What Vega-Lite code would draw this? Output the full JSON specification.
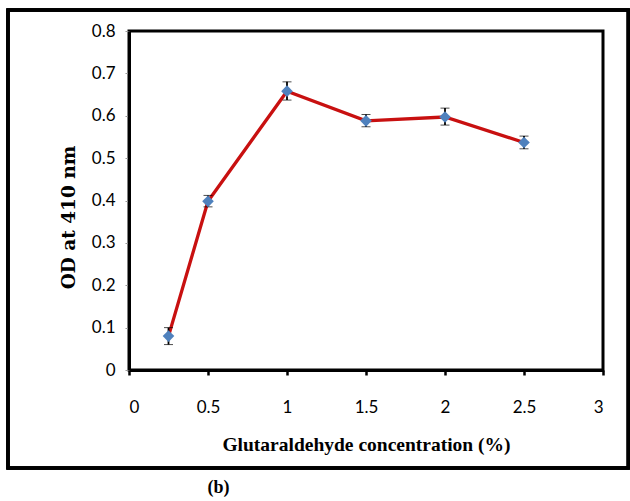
{
  "$schema": "https://vega.github.io/schema/vega-lite/v6.json",
  "width": 474,
  "height": 339,
  "autosize": {"type": "none"},
  "padding": {"left": 129, "top": 31, "right": 27, "bottom": 131},
  "background": "white",
  "title": {
    "text": "(b)",
    "orient": "bottom",
    "anchor": "start",
    "dx": 201,
    "offset": 9,
    "font": "Liberation Serif",
    "fontSize": 18,
    "fontWeight": "bold",
    "color": "black"
  },
  "config": {
    "view": {"stroke": "black", "strokeWidth": 3},
    "axis": {"grid": false}
  },
  "data": {
    "values": [
      {"conc": 0.25, "od": 0.08, "lo": 0.06, "hi": 0.1},
      {"conc": 0.5, "od": 0.398, "lo": 0.385, "hi": 0.412},
      {"conc": 1.0, "od": 0.658, "lo": 0.637, "hi": 0.68},
      {"conc": 1.5, "od": 0.588, "lo": 0.574, "hi": 0.603},
      {"conc": 2.0, "od": 0.597, "lo": 0.578, "hi": 0.618},
      {"conc": 2.5, "od": 0.537, "lo": 0.522, "hi": 0.552}
    ]
  },
  "layer": [
    {
      "mark": {"type": "rect", "fill": null, "filled": false, "stroke": "black", "strokeWidth": 3, "clip": false},
      "encoding": {
        "x": {"datum": -0.766, "type": "quantitative", "scale": {"domain": [0, 3], "nice": false}},
        "x2": {"datum": 3.16},
        "y": {"datum": 0.8496, "type": "quantitative", "scale": {"domain": [0, 0.8], "nice": false}},
        "y2": {"datum": -0.2313}
      }
    },
    {
      "mark": {"type": "line", "color": "#c81010", "strokeWidth": 3.3},
      "encoding": {
        "x": {
          "field": "conc",
          "type": "quantitative",
          "scale": {"domain": [0, 3], "nice": false},
          "axis": {
            "values": [0, 0.5, 1, 1.5, 2, 2.5, 3],
            "format": "~g",
            "title": "Glutaraldehyde concentration (%)",
            "titleFont": "Liberation Serif",
            "titleFontSize": 19.5,
            "titleFontWeight": "bold",
            "titleColor": "black",
            "titlePadding": 20,
            "labelFont": "Lato",
            "labelFontSize": 17,
            "labelColor": "black",
            "labelPadding": 24,
            "tickColor": "black",
            "tickWidth": 2.5,
            "tickSize": 5,
            "domainColor": "black",
            "domainWidth": 3
          }
        },
        "y": {
          "field": "od",
          "type": "quantitative",
          "title": "OD at 410 nm",
          "scale": {"domain": [0, 0.8], "nice": false},
          "axis": {
            "values": [0, 0.1, 0.2, 0.3, 0.4, 0.5, 0.6, 0.7, 0.8],
            "format": "~g",
            "titleFont": "DejaVu Serif",
            "titleFontSize": 18.5,
            "titleFontWeight": "bold",
            "titleColor": "black",
            "titleY": 186,
            "titlePadding": 13,
            "labelFont": "Lato",
            "labelFontSize": 17,
            "labelColor": "black",
            "labelPadding": 10,
            "tickColor": "#999999",
            "tickSize": 4,
            "domainColor": "black",
            "domainWidth": 3
          }
        }
      }
    },
    {
      "mark": {"type": "errorbar", "ticks": {"color": "black", "strokeWidth": 2, "size": 9}, "rule": {"color": "black", "strokeWidth": 1.8}},
      "encoding": {
        "x": {"field": "conc", "type": "quantitative"},
        "y": {"field": "lo", "type": "quantitative", "title": "OD at 410 nm"},
        "y2": {"field": "hi"}
      }
    },
    {
      "mark": {"type": "point", "shape": "diamond", "filled": true, "color": "#4f81bd", "size": 135, "opacity": 1},
      "encoding": {
        "x": {"field": "conc", "type": "quantitative"},
        "y": {"field": "od", "type": "quantitative", "title": "OD at 410 nm"}
      }
    }
  ]
}
